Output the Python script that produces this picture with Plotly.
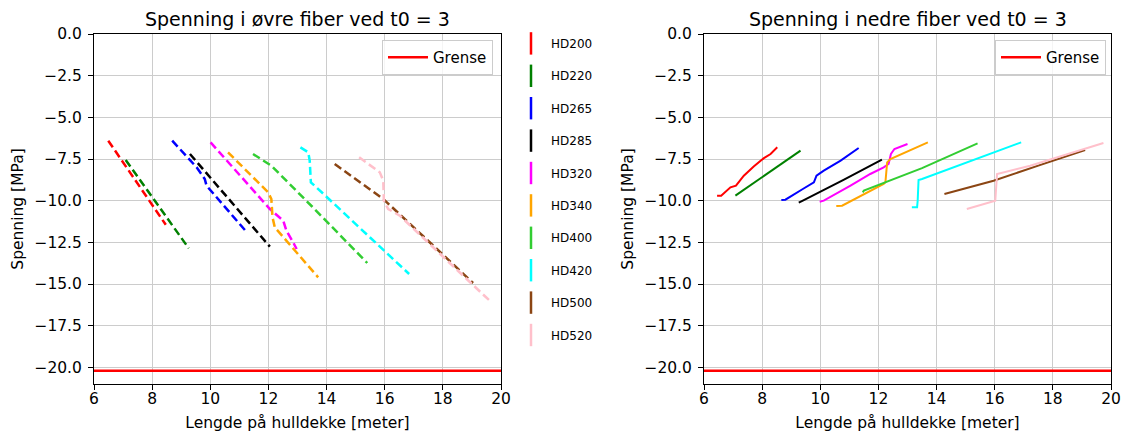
import plotly.graph_objects as go

# ---------------- data ----------------
series_names = ["HD200", "HD220", "HD265", "HD285", "HD320",
                "HD340", "HD400", "HD420", "HD500", "HD520"]
series_colors = ["red", "green", "blue", "black", "magenta",
                 "orange", "limegreen", "cyan", "saddlebrown", "pink"]

grense_value = -20.2
grense_x = [6, 20]

# Upper fiber (left panel)
ovre_x = {
    "HD200": [6.49, 7.0, 7.5, 8.0, 8.47],
    "HD220": [7.09, 7.6, 8.2, 8.8, 9.26],
    "HD265": [8.69, 9.53, 9.81, 9.87, 11.19],
    "HD285": [9.30, 10.5, 11.5, 12.05],
    "HD320": [10.01, 11.0, 12.05, 12.51, 12.62, 12.85, 12.97],
    "HD340": [10.61, 11.99, 12.10, 12.14, 12.22, 12.56, 13.71],
    "HD400": [11.47, 12.10, 13.5, 15.40],
    "HD420": [13.10, 13.37, 13.42, 13.46, 13.65, 15.2, 16.84],
    "HD500": [14.28, 15.95, 17.5, 19.04],
    "HD520": [15.12, 15.83, 15.95, 15.97, 16.12, 16.52, 18.0, 19.67],
}
ovre_y = {
    "HD200": [-6.40, -7.70, -8.98, -10.26, -11.45],
    "HD220": [-7.56, -8.80, -10.28, -11.74, -12.86],
    "HD265": [-6.40, -8.00, -8.70, -9.10, -11.76],
    "HD285": [-7.20, -9.62, -11.64, -12.76],
    "HD320": [-6.50, -8.45, -10.50, -11.20, -11.80, -12.50, -12.90],
    "HD340": [-7.10, -9.50, -9.90, -11.00, -11.60, -12.30, -14.60],
    "HD400": [-7.20, -7.90, -10.35, -13.74],
    "HD420": [-6.80, -7.10, -7.60, -8.90, -9.20, -11.75, -14.40],
    "HD500": [-7.80, -9.90, -12.42, -14.94],
    "HD520": [-7.40, -8.30, -8.80, -10.00, -10.50, -10.90, -13.35, -16.10],
}

# Lower fiber (right panel)
nedre_x = {
    "HD200": [6.45, 6.59, 6.91, 7.10, 7.37, 7.71, 8.06, 8.29, 8.52],
    "HD220": [7.08, 7.7, 8.5, 9.32],
    "HD265": [8.66, 8.80, 9.40, 9.78, 9.87, 10.12, 10.70, 11.32],
    "HD285": [9.26, 9.40, 10.8, 12.12],
    "HD320": [9.98, 10.12, 11.04, 11.72, 12.18, 12.35, 12.43, 12.55, 13.00],
    "HD340": [10.55, 10.75, 12.18, 12.24, 12.30, 12.41, 13.70],
    "HD400": [11.46, 11.50, 13.5, 15.41],
    "HD420": [13.15, 13.33, 13.35, 13.38, 13.50, 15.2, 16.91],
    "HD500": [14.27, 14.47, 15.96, 17.5, 19.11],
    "HD520": [15.04, 15.96, 16.02, 16.08, 17.22, 19.74],
}
nedre_y = {
    "HD200": [-9.70, -9.70, -9.20, -9.10, -8.50, -7.95, -7.45, -7.20, -6.80],
    "HD220": [-9.70, -8.95, -7.98, -7.00],
    "HD265": [-9.96, -9.94, -9.30, -8.90, -8.50, -8.20, -7.60, -6.84],
    "HD285": [-10.12, -10.00, -8.75, -7.54],
    "HD320": [-10.06, -10.00, -9.10, -8.40, -8.00, -7.80, -7.20, -6.90, -6.60],
    "HD340": [-10.32, -10.30, -9.00, -8.90, -7.70, -7.50, -6.50],
    "HD400": [-9.50, -9.40, -8.05, -6.56],
    "HD420": [-10.40, -10.40, -10.00, -8.76, -8.70, -7.60, -6.50],
    "HD500": [-9.60, -9.50, -8.80, -7.90, -6.96],
    "HD520": [-10.50, -10.04, -10.00, -8.40, -7.90, -6.54],
}

x_ticks = [6, 8, 10, 12, 14, 16, 18, 20]
y_ticks = [0.0, -2.5, -5.0, -7.5, -10.0, -12.5, -15.0, -17.5, -20.0]

# ---------------- figure ----------------
FONT = "DejaVu Sans"
fig = go.Figure()

for name, col in zip(series_names, series_colors):
    fig.add_trace(go.Scatter(
        x=ovre_x[name], y=ovre_y[name], mode="lines", name=name,
        line=dict(color=col, width=2.5, dash="8px,4px"),
        showlegend=False, xaxis="x", yaxis="y"))
    fig.add_trace(go.Scatter(
        x=nedre_x[name], y=nedre_y[name], mode="lines", name=name,
        line=dict(color=col, width=2),
        showlegend=False, xaxis="x2", yaxis="y2"))
    # legend entry with vertical line symbol
    fig.add_trace(go.Scatter(
        x=[None], y=[None], mode="markers", name=name, legendgroup=name,
        marker=dict(symbol="line-ns", size=22, color=col,
                    line=dict(color=col, width=2.5)),
        showlegend=True, legend="legend", xaxis="x", yaxis="y"))

fig.add_trace(go.Scatter(
    x=grense_x, y=[grense_value] * len(grense_x), mode="lines", name="Grense",
    line=dict(color="red", width=2.5), legend="legend2",
    xaxis="x", yaxis="y"))
fig.add_trace(go.Scatter(
    x=grense_x, y=[grense_value] * len(grense_x), mode="lines", name="Grense",
    line=dict(color="red", width=2.5), legend="legend3",
    xaxis="x2", yaxis="y2"))

L, R, T, B = 94, 13, 34, 50
W, H = 1124, 434
pw = W - L - R
ph = H - T - B

def px_x(p):
    return (p - L) / pw

def px_y(p):
    return (H - B - p) / ph

TICK_SIZE = 15.5
AXT_SIZE = 15.5
TITLE_SIZE = 19

axis_common = dict(
    showline=True, mirror=True, linecolor="black", linewidth=1,
    ticks="outside", ticklen=5, tickcolor="black",
    showgrid=True, gridcolor="#cccccc", gridwidth=1,
    zeroline=False,
    tickfont=dict(family=FONT, size=TICK_SIZE, color="black"),
)

xr = [6, 20]
yr = [-21, 0]

fig.update_layout(
    width=W, height=H,
    margin=dict(l=L, r=R, t=T, b=B, autoexpand=False),
    plot_bgcolor="white", paper_bgcolor="white",
    font=dict(family=FONT, color="black"),
    xaxis=dict(domain=[0, px_x(501)], range=xr, tickvals=x_ticks, ticklabelstandoff=-5,
               title=dict(text="Lengde på hulldekke [meter]", font=dict(size=AXT_SIZE), standoff=10),
               anchor="y", **axis_common),
    yaxis=dict(domain=[0, 1], range=yr, tickvals=y_ticks, tickformat=".1f", ticklabelstandoff=3,
               title=dict(text="Spenning [MPa]", font=dict(size=AXT_SIZE), standoff=6),
               anchor="x", **axis_common),
    xaxis2=dict(domain=[px_x(704), 1], range=xr, tickvals=x_ticks, ticklabelstandoff=-5,
                title=dict(text="Lengde på hulldekke [meter]", font=dict(size=AXT_SIZE), standoff=10),
                anchor="y2", **axis_common),
    yaxis2=dict(domain=[0, 1], range=yr, tickvals=y_ticks, tickformat=".1f", ticklabelstandoff=3,
                title=dict(text="Spenning [MPa]", font=dict(size=AXT_SIZE), standoff=6),
                anchor="x2", **axis_common),
    legend=dict(x=px_x(511), y=0.556, xanchor="left", yanchor="middle",
                font=dict(family=FONT, size=12), tracegroupgap=13.4,
                traceorder="grouped", bgcolor="rgba(0,0,0,0)", itemsizing="trace"),
    legend2=dict(x=px_x(493), y=px_y(40), xanchor="right", yanchor="top",
                 font=dict(family=FONT, size=15), itemwidth=40,
                 bgcolor="rgba(255,255,255,0.8)", bordercolor="#cccccc", borderwidth=1),
    legend3=dict(x=px_x(1106), y=px_y(40), xanchor="right", yanchor="top",
                 font=dict(family=FONT, size=15), itemwidth=40,
                 bgcolor="rgba(255,255,255,0.8)", bordercolor="#cccccc", borderwidth=1),
    annotations=[
        dict(text="Spenning i øvre fiber ved t0 = 3", x=(px_x(94) + px_x(501)) / 2,
             y=1, xref="paper", yref="paper", xanchor="center", yanchor="bottom",
             yshift=2, showarrow=False, font=dict(family=FONT, size=TITLE_SIZE, color="black")),
        dict(text="Spenning i nedre fiber ved t0 = 3", x=(px_x(704) + px_x(1111)) / 2,
             y=1, xref="paper", yref="paper", xanchor="center", yanchor="bottom",
             yshift=2, showarrow=False, font=dict(family=FONT, size=TITLE_SIZE, color="black")),
    ],
)

fig.write_html("out.html", config={"displayModeBar": False},
               post_script="document.body.style.margin='0px';")
